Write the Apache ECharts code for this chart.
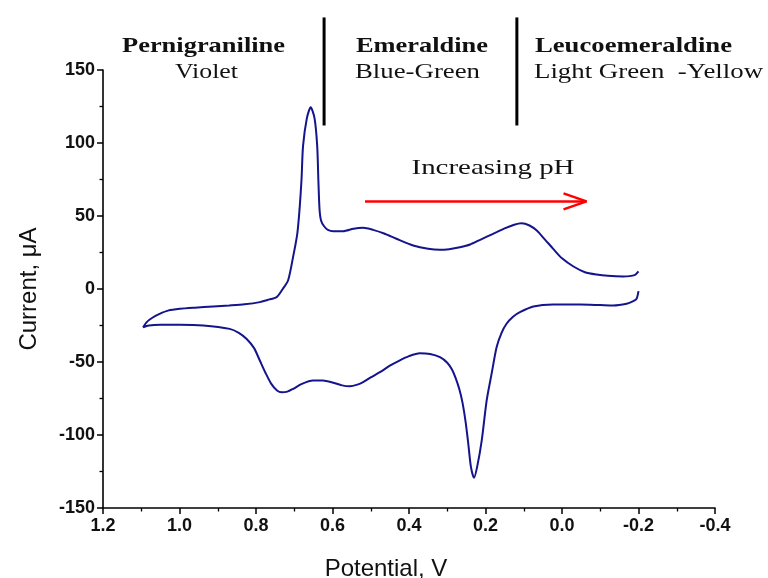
<!DOCTYPE html>
<html>
<head>
<meta charset="utf-8">
<script src="https://cdn.jsdelivr.net/npm/echarts@6/dist/echarts.min.js"></script>
<style>html,body{margin:0;padding:0;background:#fff}#c{width:768px;height:578px}</style>
</head>
<body>
<div id="c"></div>
<script>
// Anodic (upper) branch: potential (V) and current (µA)
var upperPotential = [-0.2,-0.19,-0.16,-0.12,-0.09,-0.06,-0.03,0.0,0.023,0.045,0.066,0.085,0.106,0.125,0.15,0.171,0.195,0.214,0.24,0.267,0.295,0.319,0.35,0.389,0.433,0.465,0.494,0.52,0.545,0.572,0.598,0.612,0.622,0.630,0.634,0.637,0.640,0.647,0.657,0.667,0.677,0.681,0.686,0.692,0.703,0.716,0.73,0.746,0.77,0.79,0.83,0.87,0.912,0.96,0.999,1.03,1.052,1.07,1.085,1.095];
var upperCurrent   = [12,9.5,8.6,9,9.9,11.5,15.4,21,27.5,34,40,43.5,45,44,41.5,38.9,36,33.7,30.5,28.6,27.3,26.8,27.5,29.8,34.4,38,40.5,41.9,41.3,39.6,39.6,40.5,43,47,55,75,98,117,124.5,117,98,75,55,38,22,6,0,-5.6,-7.5,-9,-10.5,-11.3,-12,-12.8,-13.6,-14.8,-17,-19.5,-22.5,-26.2];
// Cathodic (lower) branch
var lowerPotential = [1.095,1.08,1.05,0.999,0.938,0.869,0.845,0.825,0.805,0.79,0.775,0.76,0.745,0.733,0.718,0.703,0.68,0.651,0.625,0.6,0.575,0.555,0.535,0.52,0.5,0.476,0.45,0.425,0.4,0.372,0.345,0.319,0.3,0.288,0.278,0.268,0.26,0.252,0.245,0.238,0.23,0.222,0.21,0.197,0.184,0.171,0.158,0.145,0.128,0.11,0.075,0.023,-0.047,-0.1,-0.134,-0.169,-0.185,-0.195,-0.2];
var lowerCurrent   = [-26.2,-25,-24.5,-24.5,-25,-27.3,-30,-34.1,-40.5,-49,-57.5,-65,-69.5,-70.7,-70.3,-68.4,-65,-62.7,-62.7,-64,-66,-66.6,-65.5,-63.8,-60.5,-57,-52.5,-49,-46,-44,-44.5,-46.7,-50.5,-55,-61,-69,-78,-91,-106,-122,-129.3,-122,-104,-76.4,-58,-39.9,-30,-23.8,-19,-15.9,-12,-10.6,-10.6,-11,-11.3,-10.1,-8.5,-6.7,-1.5];

// Phase boundary markers (potential) and their vertical extent (µA)
var boundaryPotentials = [0.622, 0.118];
var boundaryRange = [112, 186];
// pH arrow
var arrowShaft = [[0.515, 60], [-0.064, 60]];
var arrowHead = [[-0.004, 65.5], [-0.064, 60], [-0.004, 54.5]];

var xTicks = {min: -0.4, max: 1.2, interval: 0.2};
var yTicks = {min: -150, max: 150, interval: 50};

var labels = [
  {text: 'Pernigraniline', bold: true, x: 203.5, y: 46.6, w: 163, align: 'center'},
  {text: 'Violet', bold: false, x: 206.5, y: 72.6, w: 63, align: 'center'},
  {text: 'Emeraldine', bold: true, x: 356, y: 46.6, w: 132, align: 'left'},
  {text: 'Blue-Green', bold: false, x: 355, y: 72.6, w: 125, align: 'left'},
  {text: 'Leucoemeraldine', bold: true, x: 535, y: 46.6, w: 197, align: 'left'},
  {text: 'Light Green  -Yellow', bold: false, x: 534, y: 72.6, w: 229, align: 'left'},
  {text: 'Increasing pH', bold: false, x: 411.5, y: 168.3, w: 163, align: 'left'}
];

var cvData = [];
for (var i = 0; i < upperPotential.length; i++) cvData.push([upperPotential[i], upperCurrent[i]]);
for (var j = 1; j < lowerPotential.length; j++) cvData.push([lowerPotential[j], lowerCurrent[j]]);

var mctx = document.createElement('canvas').getContext('2d');
function fontOf(l) { return (l.bold ? 'bold ' : '') + '22px "Liberation Serif"'; }
var graphics = labels.map(function (l) {
  mctx.font = fontOf(l);
  var s = l.w / mctx.measureText(l.text).width;
  return {
    type: 'text', x: l.x, y: l.y, scaleX: s, scaleY: 1, z: 10,
    style: {text: l.text, font: fontOf(l), fill: '#111', align: l.align, verticalAlign: 'middle'}
  };
});

var series = [{
  type: 'line', data: cvData, showSymbol: false, symbol: 'none', smooth: 0.25,
  lineStyle: {color: '#14148c', width: 2}, z: 3
}];
boundaryPotentials.forEach(function (p) {
  series.push({
    type: 'line', clip: false, symbol: 'none', showSymbol: false,
    data: [[p, boundaryRange[1]], [p, boundaryRange[0]]],
    lineStyle: {color: '#000', width: 3}, z: 4
  });
});
series.push({type: 'line', clip: false, symbol: 'none', data: arrowShaft, lineStyle: {color: '#ff0000', width: 2.5}, z: 4});
series.push({type: 'line', clip: false, symbol: 'none', data: arrowHead, lineStyle: {color: '#ff0000', width: 2.5}, z: 4});

function fmtX(v) { if (Math.abs(v) < 1e-9) v = 0; return v.toFixed(1); }

var axisCommon = {
  axisLine: {show: true, onZero: false, lineStyle: {color: '#000', width: 1.6}},
  axisTick: {show: true, inside: false, length: 6, lineStyle: {color: '#000', width: 1.5}},
  minorTick: {show: true, splitNumber: 2, length: 3.5, lineStyle: {color: '#000', width: 1.3}},
  splitLine: {show: false},
  minorSplitLine: {show: false}
};

var chart = echarts.init(document.getElementById('c'), null, {renderer: 'canvas'});
chart.setOption({
  animation: false,
  backgroundColor: '#fff',
  grid: {left: 103, right: 53, top: 70, bottom: 70, containLabel: false, outerBoundsMode: 'none'},
  xAxis: Object.assign({
    type: 'value', inverse: true, min: xTicks.min, max: xTicks.max, interval: xTicks.interval,
    axisLabel: {fontFamily: 'Liberation Sans', fontWeight: 'bold', fontSize: 18, color: '#111', margin: 9, formatter: fmtX},
    name: 'Potential, V', nameLocation: 'middle', nameGap: 49,
    nameTextStyle: {fontFamily: 'Liberation Sans', fontSize: 24, color: '#111', padding: [0, 46, 0, 0]}
  }, axisCommon),
  yAxis: Object.assign({
    type: 'value', min: yTicks.min, max: yTicks.max, interval: yTicks.interval,
    axisLabel: {fontFamily: 'Liberation Sans', fontWeight: 'bold', fontSize: 18, color: '#111', margin: 8},
    name: 'Current, \u03bcA', nameLocation: 'middle', nameGap: 62, nameRotate: 90,
    nameTextStyle: {fontFamily: 'Liberation Sans', fontSize: 24, color: '#111'}
  }, axisCommon),
  series: series,
  graphic: graphics
});
</script>
</body>
</html>
